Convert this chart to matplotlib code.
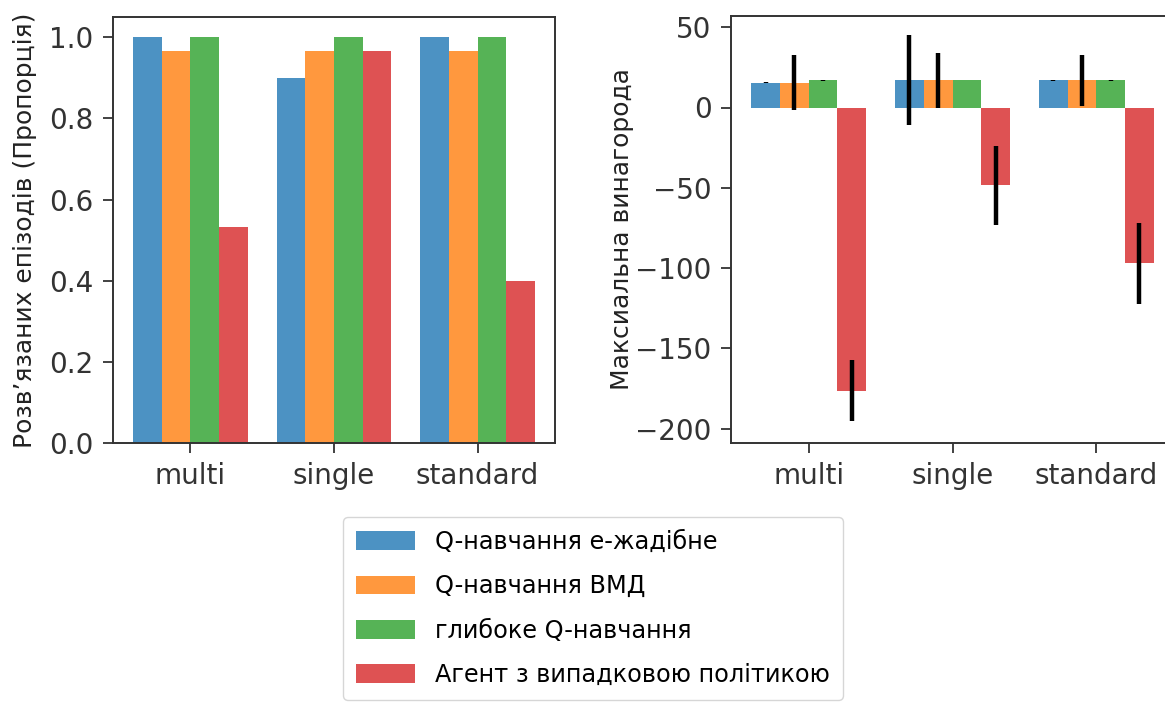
import numpy as np
import matplotlib
matplotlib.use("Agg")
import matplotlib.pyplot as plt

plt.rcParams['font.family'] = ['DejaVu Sans']

envs = ['multi', 'single', 'standard']
agents = ['Q-навчання е-жадібне', 'Q-навчання ВМД', 'глибоке Q-навчання',
          'Агент з випадковою політикою']
colors = ['tab:blue', 'tab:orange', 'tab:green', 'tab:red']

# share of solved episodes, rows = agents, cols = envs
solved = [[1.0, 0.9, 1.0],
          [0.967, 0.967, 0.967],
          [1.0, 1.0, 1.0],
          [0.533, 0.967, 0.4]]

# max reward mean and std
reward = [[15.5, 16.9, 16.9],
          [15.5, 16.9, 16.9],
          [16.9, 16.9, 16.9],
          [-176.3, -48.5, -97.1]]
reward_err = [[0.3, 28.0, 0.3],
              [17.0, 17.0, 16.0],
              [0.3, 0.0, 0.3],
              [19.0, 24.8, 25.0]]

fig = plt.figure(figsize=(11.65, 7.04), dpi=100)
W, H = 1165, 704
ax1 = fig.add_axes([113 / W, 1 - 443 / H, 442 / W, 426 / H])
ax2 = fig.add_axes([731 / W, 1 - 443 / H, 443 / W, 427 / H])

x = np.arange(len(envs))
width = 0.2
handles = []
for i in range(len(agents)):
    pos = x + (i - 1.5) * width
    b = ax1.bar(pos, solved[i], width, color=colors[i], alpha=0.8, label=agents[i])
    handles.append(b)
    ax2.bar(pos, reward[i], width, color=colors[i], alpha=0.8,
            yerr=reward_err[i], error_kw=dict(ecolor='black', elinewidth=3.2, capsize=0))

ax2.set_ylim(-209, 57)

for ax in (ax1, ax2):
    ax.set_xticks(x)
    ax.set_xticklabels(envs)
    ax.tick_params(labelsize=20, length=7, width=1.3, colors='#333333', pad=7)
    for s in ax.spines.values():
        s.set_linewidth(1.4)
        s.set_color('#333333')

ax1.set_yticks([0.0, 0.2, 0.4, 0.6, 0.8, 1.0])
ax2.set_yticks([-200, -150, -100, -50, 0, 50])
ax1.set_ylabel('Розв’язаних епізодів (Пропорція)', fontsize=18, color='#222222')
ax2.set_ylabel('Максиальна винагорода', fontsize=18, color='#222222')
ax1.yaxis.set_label_coords(-(113 - 37) / 442, 0.5)
ax2.yaxis.set_label_coords(-(731 - 634) / 443, 0.5)

fig.legend(handles, agents, loc='upper center', bbox_to_anchor=(593 / W, 1 - 517 / H),
           borderaxespad=0, fontsize=17.3, handlelength=2.45, handleheight=0.83,
           handletextpad=0.85, labelspacing=0.84, borderpad=0.55, frameon=True)

fig.savefig('out.png', dpi=100)
